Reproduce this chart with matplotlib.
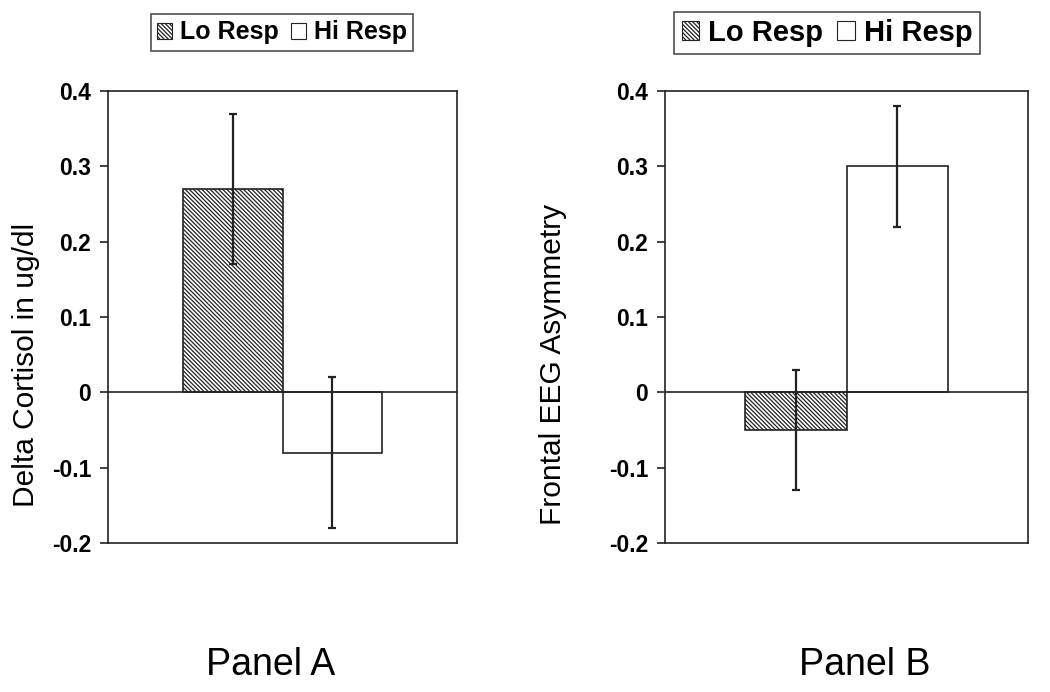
import numpy as np
import matplotlib
matplotlib.use("Agg")
import matplotlib.pyplot as plt
from matplotlib.patches import Patch

#~~~~~~~~ Data ~~~~~~~~~~~~
groups = ["Lo Resp", "Hi Resp"]
cortisol = [0.27, -0.08]
cortisol_err = [0.10, 0.10]
eeg = [-0.05, 0.30]
eeg_err = [0.08, 0.08]
yticks = [-0.2, -0.1, 0, 0.1, 0.2, 0.3, 0.4]
ytick_labels = ["-0.2", "-0.1", "0", "0.1", "0.2", "0.3", "0.4"]
#~~~~~~~~~~~~~~~~~~~~~~~~~~~

plt.rcParams['font.family'] = ['Liberation Sans', 'DejaVu Sans']
plt.rcParams['hatch.linewidth'] = 0.9
plt.rcParams['hatch.color'] = '#333333'

ink = '#222222'
hatches = ['\\' * 8, '']

fig = plt.figure(figsize=(10.5, 6.92), dpi=100)
W, H = 1050., 692.


def panel(rect, vals, errs, barw, ylabel, label_x, legend_xy, legend_fs, title, title_x):
    ax = fig.add_axes(rect)
    xs = [0.5 - barw / 2, 0.5 + barw / 2]
    for x, v, e, h in zip(xs, vals, errs, hatches):
        ax.bar(x, v, width=barw, color='white', edgecolor=ink, lw=1.2, hatch=h, zorder=2)
        ax.errorbar(x, v, yerr=e, color=ink, lw=1.6, capsize=3, capthick=1.6, zorder=3)
    ax.axhline(0, color=ink, lw=1.2, zorder=4)
    ax.set_xlim(0, 1)
    ax.set_ylim(-0.2, 0.4)
    ax.set_xticks([])
    ax.set_yticks(yticks)
    ax.set_yticklabels(ytick_labels, fontsize=16.5, fontweight='bold')
    ax.tick_params(axis='y', length=6, width=1.2, color=ink, pad=6)
    for s in ax.spines.values():
        s.set_color(ink)
        s.set_linewidth(1.2)
    ax.set_ylabel(ylabel, fontsize=21.5)
    ax.yaxis.set_label_coords(label_x, 0.395)

    handles = [Patch(facecolor='white', edgecolor=ink, hatch=h, lw=0.8) for h in hatches]
    fig.legend(handles, groups, loc='center', bbox_to_anchor=legend_xy, ncol=2,
               prop={'size': legend_fs, 'weight': 'bold'}, frameon=True, fancybox=False,
               edgecolor=ink, handlelength=0.6, handleheight=0.6, handletextpad=0.3,
               columnspacing=0.5, borderpad=0.25, borderaxespad=0).get_frame().set_linewidth(1.2)

    fig.text(title_x, 1 - 675 / H, title, fontsize=27, ha='center', va='baseline')
    return ax


panel([108 / W, 1 - 543 / H, 349 / W, 452 / H], cortisol, cortisol_err, 0.286,
      'Delta Cortisol in ug/dl', -0.195, (282 / W, 1 - 32.5 / H), 18, 'Panel A', 271 / W)
panel([665 / W, 1 - 543 / H, 363 / W, 452 / H], eeg, eeg_err, 0.28,
      'Frontal EEG Asymmetry', -0.27, (827 / W, 1 - 33 / H), 21, 'Panel B', 865 / W)

fig.savefig('out.png', dpi=100)
